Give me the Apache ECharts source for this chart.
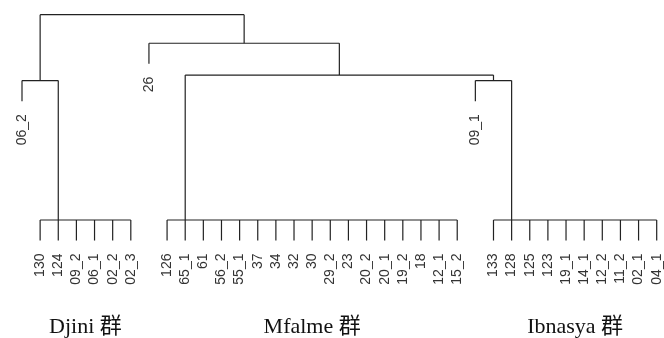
<!DOCTYPE html>
<html>
<head>
<meta charset="utf-8">
<script src="https://cdn.jsdelivr.net/npm/echarts@6/dist/echarts.min.js"></script>
<style>
  html, body { margin: 0; padding: 0; background: #fff; }
  #chart1 { width: 664px; height: 338px; }
</style>
</head>
<body>
<div id="chart1"></div>
<script>
// leaves of each group, left to right
var djiniLeaves = ['130', '124', '09_2', '06_1', '02_2', '02_3']
var mfalmeLeaves = ['126', '65_1', '61', '56_2', '55_1', '37', '34', '32', '30', '29_2', '23', '20_2', '20_1', '19_2', '18', '12_1', '15_2']
var ibnasyaLeaves = ['133', '128', '125', '123', '19_1', '14_1', '12_2', '11_2', '02_1', '04_1']
var groupNames = ['Djini 群', 'Mfalme 群', 'Ibnasya 群']
// merge heights (root = 10)
var hDjini = 6.79
var hIbnasya = 6.79
var hMfalmeIbnasya = 7.06
var h26 = 8.61
var hRoot = 10
var hang = 1

function leaf (name) { return { leaf: name } }
function flat (names, anchor) { return { flat: names, anchor: anchor } }
function node (a, b, h) { return { children: [a, b], height: h } }

var tree = node(
    node(leaf('06_2'), flat(djiniLeaves, '124'), hDjini),
    node(leaf('26'),
        node(flat(mfalmeLeaves, '65_1'),
            node(leaf('09_1'), flat(ibnasyaLeaves, '128'), hIbnasya),
            hMfalmeIbnasya),
        h26),
    hRoot)

// leaf order
var order = []
function collect (n) {
    if (n.leaf) order.push(n.leaf)
    else if (n.flat) n.flat.forEach(function (s) { order.push(s) })
    else n.children.forEach(collect)
}
collect(tree)

var segs = []
var labels = []
function layout (n) {
    if (n.leaf) return { x: order.indexOf(n.leaf), h: null, name: n.leaf }
    if (n.flat) {
        var i0 = order.indexOf(n.flat[0])
        var i1 = order.indexOf(n.flat[n.flat.length - 1])
        segs.push([i0, 0, i1, 0])
        n.flat.forEach(function (s) {
            var i = order.indexOf(s)
            segs.push([i, 0, i, -hang])
            labels.push([i, -hang, s])
        })
        return { x: order.indexOf(n.anchor), h: 0 }
    }
    var c = n.children.map(layout)
    var h = n.height
    c.forEach(function (ch) {
        if (ch.h === null) {
            segs.push([ch.x, h, ch.x, h - hang])
            labels.push([ch.x, h - hang, ch.name])
        } else {
            segs.push([ch.x, h, ch.x, ch.h])
        }
    })
    segs.push([c[0].x, h, c[1].x, h])
    return { x: (c[0].x + c[1].x) / 2, h: h }
}
layout(tree)

var groups = [djiniLeaves, mfalmeLeaves, ibnasyaLeaves].map(function (g, k) {
    var a = order.indexOf(g[0])
    var b = order.indexOf(g[g.length - 1])
    return [(a + b) / 2, 0, groupNames[k]]
})

var myChart = echarts.init(document.getElementById('chart1'))
var option = {
    animation: false,
    grid: { left: 22, right: 7.3, top: 14.7, bottom: 118 },
    xAxis: { type: 'value', min: 0, max: order.length - 1, show: false },
    yAxis: { type: 'value', min: 0, max: hRoot, show: false },
    series: [
        {
            type: 'custom',
            data: segs,
            renderItem: function (params, api) {
                var p1 = api.coord([api.value(0), api.value(1)])
                var p2 = api.coord([api.value(2), api.value(3)])
                return {
                    type: 'line',
                    shape: { x1: p1[0], y1: p1[1], x2: p2[0], y2: p2[1] },
                    style: { stroke: '#222', lineWidth: 1.2 }
                }
            }
        },
        {
            type: 'custom',
            data: labels.map(function (l) { return [l[0], l[1]] }),
            renderItem: function (params, api) {
                var p = api.coord([api.value(0), api.value(1)])
                return {
                    type: 'text',
                    x: p[0],
                    y: p[1] + 13,
                    rotation: Math.PI / 2,
                    style: {
                        text: labels[params.dataIndex][2],
                        align: 'right',
                        verticalAlign: 'middle',
                        fill: '#333',
                        font: '14px "Liberation Sans", Arial, sans-serif'
                    }
                }
            }
        },
        {
            type: 'custom',
            data: groups.map(function (g) { return [g[0], g[1]] }),
            renderItem: function (params, api) {
                var p = api.coord([api.value(0), api.value(1)])
                return {
                    type: 'text',
                    x: p[0],
                    y: 327,
                    style: {
                        text: groups[params.dataIndex][2],
                        align: 'center',
                        verticalAlign: 'middle',
                        fill: '#111',
                        font: '22px "Liberation Serif", "Times New Roman", "Noto Sans CJK SC", serif'
                    }
                }
            }
        }
    ]
}
myChart.setOption(option)
</script>
</body>
</html>
